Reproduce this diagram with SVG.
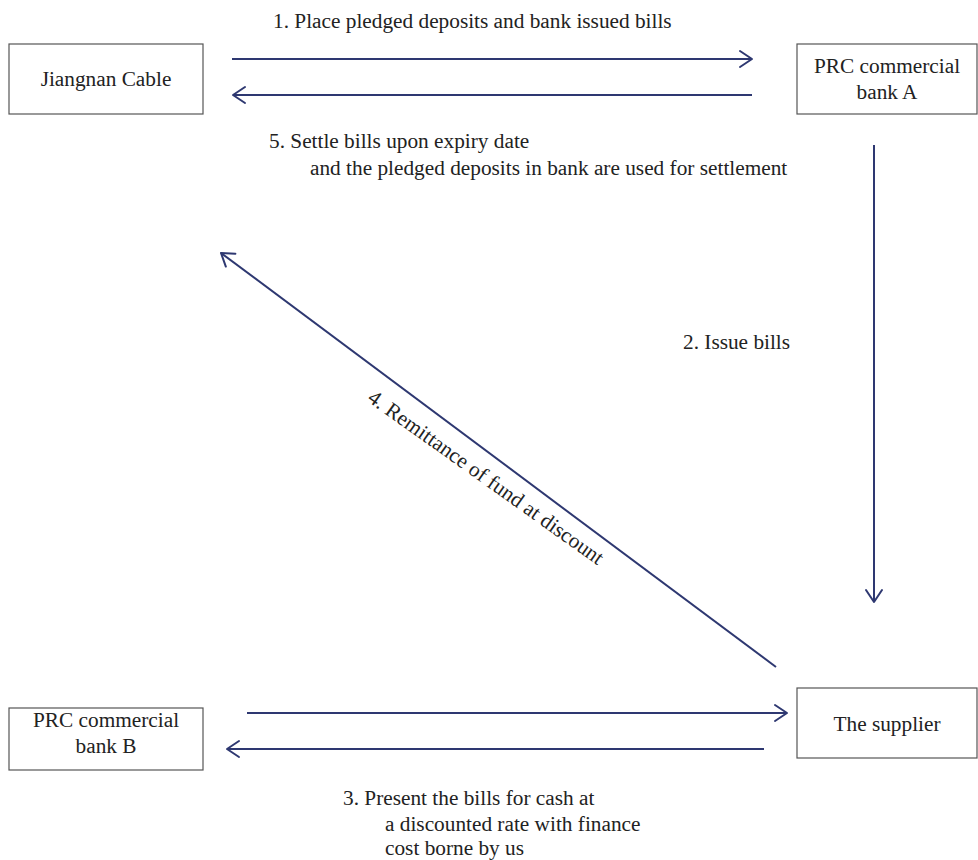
<svg xmlns="http://www.w3.org/2000/svg" width="978" height="860" viewBox="0 0 978 860">
<style>
.box{fill:#fff;stroke:#555;stroke-width:1.2}
.t{font-family:"Liberation Serif","Times New Roman",serif;font-size:21.3px;fill:#222}
.c{text-anchor:middle}
.ln{stroke:#2e3871;stroke-width:2;fill:none;marker-end:url(#ah)}
</style>
<defs>
<marker id="ah" markerUnits="userSpaceOnUse" viewBox="-14 -10 16 20" refX="0" refY="0" markerWidth="16" markerHeight="20" orient="auto">
<path d="M-12,-8 L0,0 L-12,8" fill="none" stroke="#2e3871" stroke-width="2" stroke-linecap="round" stroke-linejoin="round"/>
</marker>
</defs>
<rect width="978" height="860" fill="#fff"/>
<g id="jiangnan">
<rect class="box" x="9" y="44" width="194" height="70"/>
<text class="t c" x="106" y="86">Jiangnan Cable</text>
</g>
<g id="bankA">
<rect class="box" x="797" y="44" width="180" height="70"/>
<text class="t c" x="887" y="73">PRC commercial</text>
<text class="t c" x="887" y="99">bank A</text>
</g>
<g id="bankB">
<rect class="box" x="9" y="708" width="194" height="62"/>
<text class="t c" x="106" y="727">PRC commercial</text>
<text class="t c" x="106" y="753">bank B</text>
</g>
<g id="supplier">
<rect class="box" x="797" y="688" width="180" height="70"/>
<text class="t c" x="887" y="731">The supplier</text>
</g>
<g id="connectors">
<line class="ln" x1="232" y1="59" x2="752" y2="59"/>
<line class="ln" x1="752" y1="95" x2="233" y2="95"/>
<line class="ln" x1="874" y1="145" x2="874" y2="602"/>
<line class="ln" x1="776" y1="667" x2="221" y2="253"/>
<line class="ln" x1="247" y1="713" x2="787" y2="713"/>
<line class="ln" x1="764" y1="749" x2="227" y2="749"/>
</g>
<g id="labels">
<text class="t" x="273" y="28">1. Place pledged deposits and bank issued bills</text>
<text class="t" x="269" y="148">5. Settle bills upon expiry date</text>
<text class="t" x="310" y="175">and the pledged deposits in bank are used for settlement</text>
<text class="t" x="683" y="349">2. Issue bills</text>
<text class="t c" transform="translate(482,483) rotate(35.5)">4. Remittance of fund at discount</text>
<text class="t" x="343" y="805">3. Present the bills for cash at</text>
<text class="t" x="385" y="831">a discounted rate with finance</text>
<text class="t" x="385" y="855">cost borne by us</text>
</g>
</svg>
